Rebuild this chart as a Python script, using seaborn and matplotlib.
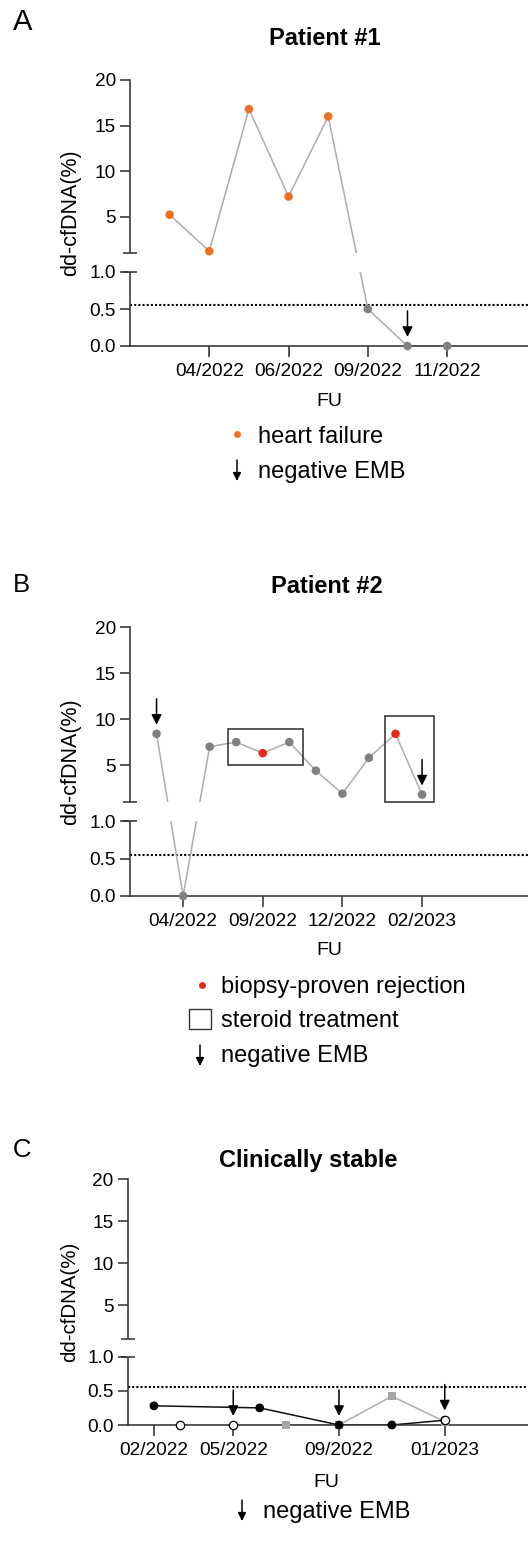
import numpy as np
import pandas as pd
import matplotlib
matplotlib.use("Agg")
import matplotlib.pyplot as plt
import seaborn as sns
from matplotlib.patches import Rectangle, FancyArrowPatch
from matplotlib.lines import Line2D

# ---------------- data ----------------
p1_visit = [1, 2, 3, 4, 5, 6, 7, 8]
p1_value = [5.2, 1.2, 16.8, 7.2, 16.0, 0.5, 0.0, 0.0]
p1_status = ["heart failure"] * 5 + ["other"] * 3
p1_ticks = [2, 4, 6, 8]
p1_ticklabels = ["04/2022", "06/2022", "09/2022", "11/2022"]
p1_emb_visit = [7]
p1_emb_value = [0.0]

p2_visit = [1, 2, 3, 4, 5, 6, 7, 8, 9, 10, 11]
p2_value = [8.4, 0.0, 7.0, 7.5, 6.3, 7.5, 4.4, 1.9, 5.8, 8.4, 1.8]
p2_status = ["other", "other", "other", "other", "rejection", "other",
             "other", "other", "other", "rejection", "other"]
p2_ticks = [2, 5, 8, 11]
p2_ticklabels = ["04/2022", "09/2022", "12/2022", "02/2023"]
p2_emb_visit = [1, 11]
p2_emb_value = [8.4, 1.8]
p2_steroid_x = [(3.7, 6.5), (9.6, 11.45)]
p2_steroid_y = [(5.0, 8.9), (1.01, 10.3)]

c_black_visit = [1, 5, 8, 10, 12]
c_black_value = [0.28, 0.25, 0.0, 0.0, 0.07]
c_gray_visit = [6, 8, 10, 12]
c_gray_value = [0.0, 0.0, 0.42, 0.05]
c_open_visit = [2, 4, 12]
c_open_value = [0.0, 0.0, 0.08]
c_ticks = [1, 4, 8, 12]
c_ticklabels = ["02/2022", "05/2022", "09/2022", "01/2023"]
c_emb_visit = [4, 8, 12]
c_emb_value = [0.0, 0.0, 0.08]

threshold = 0.55
ytick_values = [0, 0.5, 1.0, 5, 10, 15, 20]
ytick_labels = ["0.0", "0.5", "1.0", "5", "10", "15", "20"]

# ---------------- style ----------------
sns.set_style("ticks")
plt.rcParams["font.family"] = ["Liberation Sans", "DejaVu Sans"]
plt.rcParams["text.color"] = "black"
plt.rcParams["axes.labelcolor"] = "black"

AX_COLOR = "#333333"
LINE_GRAY = "#adadad"
PT_GRAY = "#808080"
ORANGE = "#f07023"
RED = "#e62a1c"

# broken y-axis scale: lower 0..1, gap, upper 1..20
LOW, GAP, UP = 74.0, 19.0, 173.0
TOTAL = LOW + GAP + UP
BREAK, TOP = 1.0, 20.0
K = UP / (TOP - BREAK)


def fwd(y):
    y = np.asarray(y, dtype=float)
    return np.where(y <= BREAK, y * LOW / BREAK, LOW + GAP + (y - BREAK) * K)


def inv(t):
    t = np.asarray(t, dtype=float)
    return np.where(t <= LOW, t * BREAK / LOW,
                    np.where(t < LOW + GAP, BREAK, BREAK + (t - LOW - GAP) / K))


W, H = 528, 1566
fig = plt.figure(figsize=(W / 100, H / 100), dpi=100)


def fx(x):
    return x / W


def fy(y):
    return 1 - y / H


def make_axes(left, top, bottom, xmax, ticks, ticklabels):
    ax = fig.add_axes([fx(left), fy(bottom), 1 - fx(left), (bottom - top) / H])
    ax_w = W - left
    ax.set_yscale("function", functions=(fwd, inv))
    ax.set_ylim(0, TOP)
    ax.set_xlim(0, xmax)
    ax.set_yticks(ytick_values)
    ax.set_yticklabels(ytick_labels)
    ax.set_xticks(ticks)
    ax.set_xticklabels(ticklabels)
    sns.despine(ax=ax)
    for s in ("left", "bottom"):
        ax.spines[s].set_linewidth(1.15)
        ax.spines[s].set_color(AX_COLOR)
    ax.tick_params(axis="x", length=8, width=1.15, pad=4, labelsize=13.7,
                   color=AX_COLOR, labelcolor="black")
    ax.tick_params(axis="y", length=7, width=1.15, pad=3, labelsize=13.7,
                   color=AX_COLOR, labelcolor="black")
    ax.axhline(threshold, color="black", lw=1.5, ls=(0, (1, 1)), zorder=1.8)
    y0, y1 = LOW / TOTAL, (LOW + GAP) / TOTAL
    ax.add_patch(Rectangle((-2 / ax_w, y0), 1 + 4 / ax_w, y1 - y0,
                           transform=ax.transAxes, facecolor="white",
                           edgecolor="none", zorder=2.7, clip_on=False))
    c = 7 / ax_w
    for yy in (y0, y1):
        ax.plot([-c, c], [yy, yy], transform=ax.transAxes, color=AX_COLOR,
                lw=1.15, clip_on=False, zorder=3, solid_capstyle="butt")
    return ax


def finish(ax):
    ax.set_xlabel("")
    ax.set_ylabel("")


def emb_arrows(ax, xs, ys):
    for x, y in zip(xs, ys):
        ax.annotate("", xy=(x, y), xytext=(0, 35 * 0.72), textcoords="offset points",
                    arrowprops=dict(arrowstyle="-|>", color="black", lw=1.1,
                                    shrinkA=0, shrinkB=9 * 0.72, mutation_scale=15),
                    zorder=6, annotation_clip=False)


def legend_arrow(x, y_top, y_bot):
    fig.add_artist(FancyArrowPatch((fx(x), fy(y_top)), (fx(x), fy(y_bot)),
                                   transform=fig.transFigure, arrowstyle="-|>",
                                   mutation_scale=12, lw=1.1, color="black",
                                   shrinkA=0, shrinkB=0))


def legend_dot(x, y, color):
    fig.add_artist(Line2D([fx(x)], [fy(y)], marker="o", markersize=5,
                          color=color, markeredgewidth=0, transform=fig.transFigure))


# ---------------- Panel A ----------------
axA = make_axes(130, 80, 346, 10.04, p1_ticks, p1_ticklabels)
dfA = pd.DataFrame({"visit": p1_visit, "value": p1_value, "status": p1_status})
sns.lineplot(data=dfA, x="visit", y="value", color=LINE_GRAY, lw=1.1,
             estimator=None, sort=False, ax=axA, zorder=2)
sns.scatterplot(data=dfA, x="visit", y="value", hue="status",
                palette={"heart failure": ORANGE, "other": PT_GRAY}, s=38,
                edgecolor="none", legend=False, ax=axA, zorder=4, clip_on=False)
emb_arrows(axA, p1_emb_visit, p1_emb_value)
finish(axA)

fig.text(fx(13), fy(30), "A", fontsize=21, ha="left", va="baseline")
fig.text(fx(325), fy(45), "Patient #1", fontsize=17, fontweight="bold",
         ha="center", va="baseline")
fig.text(fx(70.5), fy(213), "dd-cfDNA(%)", fontsize=15.5, rotation=90,
         ha="center", va="center")
fig.text(fx(329), fy(406), "FU", fontsize=14, ha="center", va="baseline")
legend_dot(236.5, 434, ORANGE)
fig.text(fx(258), fy(443), "heart failure", fontsize=17, ha="left", va="baseline")
legend_arrow(237, 460, 481)
fig.text(fx(258), fy(478), "negative EMB", fontsize=17, ha="left", va="baseline")

# ---------------- Panel B ----------------
axB = make_axes(130, 627, 896, 14.99, p2_ticks, p2_ticklabels)
dfB = pd.DataFrame({"visit": p2_visit, "value": p2_value, "status": p2_status})
sns.lineplot(data=dfB, x="visit", y="value", color=LINE_GRAY, lw=1.1,
             estimator=None, sort=False, ax=axB, zorder=2)
sns.scatterplot(data=dfB, x="visit", y="value", hue="status",
                palette={"rejection": RED, "other": PT_GRAY}, s=38,
                edgecolor="none", legend=False, ax=axB, zorder=4, clip_on=False)
for (x0, x1), (y0, y1) in zip(p2_steroid_x, p2_steroid_y):
    axB.add_patch(Rectangle((x0, y0), x1 - x0, y1 - y0, facecolor="none",
                            edgecolor=AX_COLOR, lw=1.15, zorder=3.5))
emb_arrows(axB, p2_emb_visit, p2_emb_value)
finish(axB)

fig.text(fx(13), fy(592), "B", fontsize=18.5, ha="left", va="baseline")
fig.text(fx(327), fy(593), "Patient #2", fontsize=17, fontweight="bold",
         ha="center", va="baseline")
fig.text(fx(70.5), fy(761.5), "dd-cfDNA(%)", fontsize=15.5, rotation=90,
         ha="center", va="center")
fig.text(fx(329), fy(955), "FU", fontsize=14, ha="center", va="baseline")
legend_dot(201.7, 985, RED)
fig.text(fx(221), fy(993), "biopsy-proven rejection", fontsize=17, ha="left",
         va="baseline")
fig.add_artist(Rectangle((fx(189), fy(1029)), fx(21.7), 20 / H,
                         transform=fig.transFigure, facecolor="white",
                         edgecolor=AX_COLOR, lw=1.0))
fig.text(fx(221), fy(1027), "steroid treatment", fontsize=17, ha="left",
         va="baseline")
legend_arrow(200, 1045, 1066)
fig.text(fx(221), fy(1062), "negative EMB", fontsize=17, ha="left", va="baseline")

# ---------------- Panel C ----------------
axC = make_axes(127.5, 1179, 1425, 15.15, c_ticks, c_ticklabels)
sns.lineplot(x=c_gray_visit, y=c_gray_value, color=LINE_GRAY, lw=1.1,
             estimator=None, sort=False, ax=axC, zorder=2.2)
sns.lineplot(x=c_black_visit, y=c_black_value, color="#111111", lw=1.1,
             estimator=None, sort=False, ax=axC, zorder=2.4)
sns.scatterplot(x=c_gray_visit, y=c_gray_value, marker="s", color="#a6a6a6",
                s=33, edgecolor="none", ax=axC, zorder=4, clip_on=False)
sns.scatterplot(x=c_black_visit, y=c_black_value, marker="o", color="black",
                s=40, edgecolor="none", ax=axC, zorder=4.2, clip_on=False)
sns.scatterplot(x=c_open_visit, y=c_open_value, marker="o", color="white",
                s=36, edgecolor="black", linewidth=0.9, ax=axC, zorder=4.4,
                clip_on=False)
emb_arrows(axC, c_emb_visit, c_emb_value)
finish(axC)

fig.text(fx(12.7), fy(1157), "C", fontsize=18.5, ha="left", va="baseline")
fig.text(fx(308), fy(1167), "Clinically stable", fontsize=17, fontweight="bold",
         ha="center", va="baseline")
fig.text(fx(70), fy(1302), "dd-cfDNA(%)", fontsize=14.8, rotation=90,
         ha="center", va="center")
fig.text(fx(326), fy(1487), "FU", fontsize=14, ha="center", va="baseline")
legend_arrow(242, 1500, 1521)
fig.text(fx(263), fy(1518), "negative EMB", fontsize=17, ha="left", va="baseline")

fig.savefig("out.png", dpi=100)
